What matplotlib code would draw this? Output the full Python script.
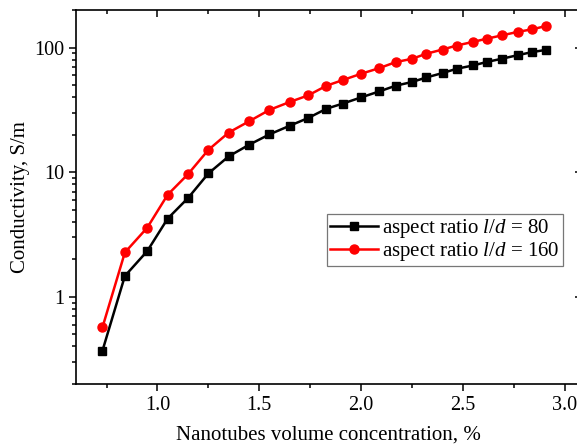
import matplotlib
matplotlib.use("Agg")
import matplotlib.pyplot as plt
from matplotlib.ticker import LogLocator, NullFormatter, MultipleLocator, FixedLocator

plt.rcParams["font.family"] = ["Liberation Serif", "DejaVu Serif"]
plt.rcParams["mathtext.fontset"] = "custom"
plt.rcParams["mathtext.rm"] = "Liberation Serif"
plt.rcParams["mathtext.it"] = "Liberation Serif:italic"

# volume concentration, %
conc = [0.73, 0.84, 0.95, 1.05, 1.15, 1.25, 1.35, 1.45, 1.55, 1.65,
        1.74, 1.83, 1.91, 2.00, 2.09, 2.17, 2.25, 2.32, 2.40, 2.47,
        2.55, 2.62, 2.69, 2.77, 2.84, 2.91]

# conductivity, S/m
cond_80 = [0.37, 1.47, 2.33, 4.24, 6.2, 9.77, 13.4, 16.6, 20.1, 23.6,
           27.2, 32.3, 35.5, 39.8, 44.5, 49.4, 52.9, 57.5, 62.4, 67.6,
           71.8, 76.8, 81.2, 86.9, 91.9, 95.9]
cond_160 = [0.57, 2.27, 3.59, 6.59, 9.64, 15.1, 20.8, 25.6, 31.6, 36.6,
            41.3, 49.4, 54.8, 61.6, 68.4, 76.4, 81.2, 89.1, 96.4, 103.8,
            111.0, 118.0, 125.0, 133.6, 140.0, 149.0]

labels = [r"aspect ratio $l/d$ = 80", r"aspect ratio $l/d$ = 160"]

fig = plt.figure(figsize=(5.77, 4.44), dpi=100)
ax = fig.add_axes([76 / 577, 60 / 444, 505 / 577, 374 / 444])

ax.plot(conc, cond_80, color="black", marker="s", markersize=5.5,
        linewidth=1.8, label=labels[0])
ax.plot(conc, cond_160, color="red", marker="o", markersize=6.5,
        linewidth=1.8, label=labels[1])

ax.set_yscale("log")
ax.set_xlim(0.6, 3.08)
ax.set_ylim(0.2, 200)

ax.xaxis.set_major_locator(MultipleLocator(0.5))
ax.xaxis.set_minor_locator(MultipleLocator(0.25))
ax.xaxis.set_major_formatter(plt.FuncFormatter(lambda v, p: f"{v:.1f}"))
ax.yaxis.set_major_locator(FixedLocator([1, 10, 100]))
ax.yaxis.set_major_formatter(plt.FuncFormatter(lambda v, p: f"{v:g}"))
ax.yaxis.set_minor_locator(LogLocator(base=10, subs=range(2, 10)))
ax.yaxis.set_minor_formatter(NullFormatter())

ax.tick_params(which="both", direction="out", labelsize=14.5, width=1.1,
               top=False, right=False)
ax.tick_params(which="major", length=5)
ax.tick_params(which="minor", length=3)

# mirrored ticks pointing inward on top and right
ax_top = ax.secondary_xaxis("top")
ax_top.xaxis.set_major_locator(MultipleLocator(0.5))
ax_top.xaxis.set_minor_locator(MultipleLocator(0.25))
ax_top.tick_params(which="both", direction="in", labeltop=False, width=1.1)
ax_top.tick_params(which="major", length=5)
ax_top.tick_params(which="minor", length=3)
ax_top.spines["top"].set_visible(False)
ax_right = ax.secondary_yaxis("right")
ax_right.yaxis.set_major_locator(FixedLocator([1, 10, 100]))
ax_right.yaxis.set_minor_locator(FixedLocator([]))
ax_right.tick_params(which="both", direction="in", labelright=False,
                     length=4, width=1.1)
ax_right.spines["right"].set_visible(False)

for s in ax.spines.values():
    s.set_linewidth(1.2)

ax.set_xlabel("Nanotubes volume concentration, %", fontsize=15, labelpad=8)
ax.set_ylabel("Conductivity, S/m", fontsize=15, labelpad=3)

leg = ax.legend(loc="upper left", bbox_to_anchor=(0.497, 0.455), fontsize=15,
                frameon=True, fancybox=False, edgecolor="#555555",
                handlelength=2.3, handletextpad=0.2, borderpad=0.15,
                labelspacing=0.02, borderaxespad=0, markerscale=1.0)
leg.get_frame().set_linewidth(0.9)

fig.savefig("out.png", dpi=100)
